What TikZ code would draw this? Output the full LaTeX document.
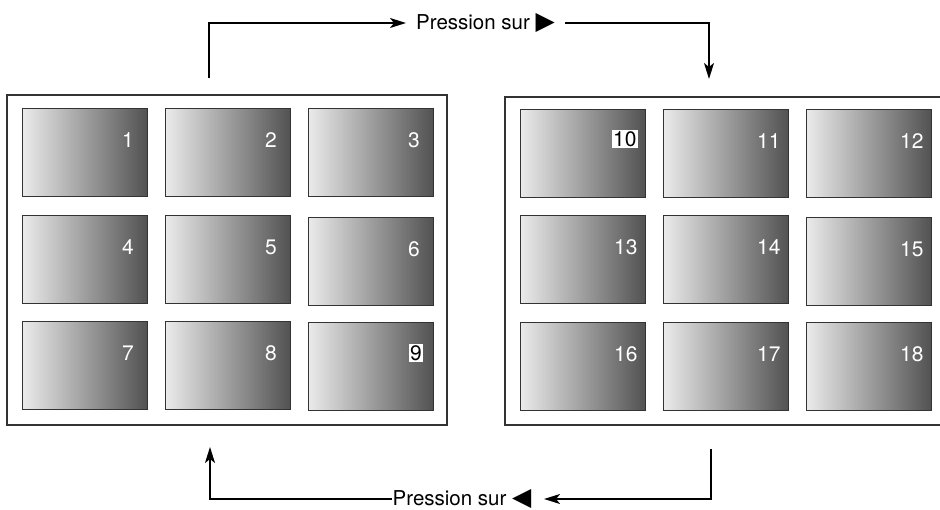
\documentclass[tikz,border=0pt]{standalone}
\usepackage{fontspec}
\setmainfont{TeX Gyre Heros}
\newfontfamily\symfont{DejaVu Sans}
\usetikzlibrary{arrows.meta,calc}
\begin{document}
\begin{tikzpicture}[x=1pt,y=-1pt,
  thumb/.style={draw=black!80,line width=0.9pt,minimum width=125pt,minimum height=88pt,
    inner sep=0pt,anchor=north west,left color=black!8,right color=black!68},
  num/.style={text=white,font=\fontsize{21}{21}\selectfont,inner sep=1.5pt},
  numbox/.style={text=black,fill=white,font=\fontsize{21}{21}\selectfont,inner sep=1.5pt},
  frame/.style={draw=black!80,line width=1.1pt},
  conn/.style={line width=1.9pt,black},
  tip/.style={-{Stealth[length=16pt,width=10pt,inset=4pt]}},
  lab/.style={font=\fontsize{20.5}{20.5}\selectfont,inner ysep=0pt}]
\useasboundingbox (0,0) rectangle (940,510);
% frames
\draw[frame] (7,95) rectangle (447,425);
\draw[frame] (940,97) -- (505,97) -- (505,425) -- (940,425);
% left thumbnails
\foreach \n/\x/\y in {1/22/108,2/165/108,3/308/108,4/22/215,5/165/215,6/308/217,7/22/321,8/165/321}{
  \node[thumb] (t\n) at (\x,\y) {};
  \node[num] (n\n) at ([shift={(-20,32)}]t\n.north east) {\n};
}
\node[thumb] (t9) at (308,322) {};
\node[numbox] (n9) at ([shift={(-18,31)}]t9.north east) {9};
% right thumbnails
\node[thumb] (t10) at (520,109) {};
\node[numbox] (n10) at ([shift={(-21,30)}]t10.north east) {10};
\foreach \n/\x/\y in {11/663/109,12/806/109,13/520/215,14/663/215,15/806/217,16/520/322,17/663/322,18/806/322}{
  \node[thumb] (t\n) at (\x,\y) {};
  \node[num] (n\n) at ([shift={(-20,32)}]t\n.north east) {\n};
}
% top connector
\coordinate (s1) at (209,78);
\coordinate (e1) at (709,79);
\node[lab,anchor=west,inner xsep=10pt] (top) at (406,23) {Pression sur {\symfont\fontsize{25}{25}\selectfont ▶}};
\draw[conn,tip] (s1) |- (top.west);
\draw[conn,tip] (top.east) -| (e1);
% bottom connector
\coordinate (s2) at (711,449);
\coordinate (e2) at (210,447);
\node[lab,anchor=west,inner xsep=0.5pt] (bot) at (392,499) {Pression sur {\symfont\fontsize{25}{25}\selectfont ◀}};
\draw[conn,tip] (s2) |- ([xshift=12pt]bot.east);
\draw[conn,tip] (bot.west) -| (e2);
\end{tikzpicture}
\end{document}
